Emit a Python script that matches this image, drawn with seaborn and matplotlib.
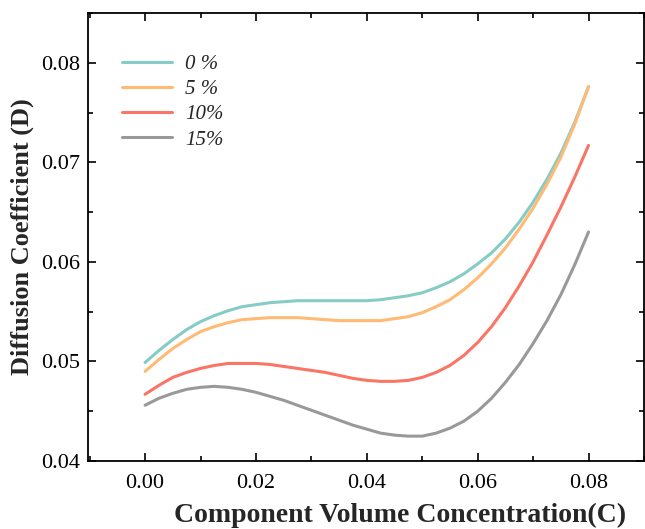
import numpy as np
import pandas as pd
import matplotlib
matplotlib.use("Agg")
import matplotlib.pyplot as plt
import seaborn as sns
from matplotlib.ticker import MultipleLocator

conc = [0.0000, 0.0025, 0.0050, 0.0075, 0.0100, 0.0125, 0.0150, 0.0175, 0.0200,
        0.0225, 0.0250, 0.0275, 0.0300, 0.0325, 0.0350, 0.0375, 0.0400,
        0.0425, 0.0450, 0.0475, 0.0500, 0.0525, 0.0550, 0.0575, 0.0600,
        0.0625, 0.0650, 0.0675, 0.0700, 0.0725, 0.0750, 0.0775, 0.0800]

d_0 = [0.0499, 0.0511, 0.0522, 0.0532, 0.0540, 0.0546, 0.0551, 0.0555, 0.0557,
       0.0559, 0.0560, 0.0561, 0.0561, 0.0561, 0.0561, 0.0561, 0.0561,
       0.0562, 0.0564, 0.0566, 0.0569, 0.0574, 0.0580, 0.0588, 0.0598,
       0.0609, 0.0623, 0.0640, 0.0660, 0.0683, 0.0709, 0.0740, 0.0776]
d_5 = [0.0490, 0.0502, 0.0513, 0.0522, 0.0530, 0.0535, 0.0539, 0.0542, 0.0543,
       0.0544, 0.0544, 0.0544, 0.0543, 0.0542, 0.0541, 0.0541, 0.0541,
       0.0541, 0.0543, 0.0545, 0.0549, 0.0555, 0.0562, 0.0572, 0.0584,
       0.0598, 0.0614, 0.0633, 0.0654, 0.0678, 0.0705, 0.0738, 0.0776]
d_10 = [0.0467, 0.0476, 0.0484, 0.0489, 0.0493, 0.0496, 0.0498, 0.0498, 0.0498,
        0.0497, 0.0495, 0.0493, 0.0491, 0.0489, 0.0486, 0.0483, 0.0481,
        0.0480, 0.0480, 0.0481, 0.0484, 0.0489, 0.0496, 0.0506, 0.0519,
        0.0535, 0.0554, 0.0576, 0.0600, 0.0627, 0.0655, 0.0685, 0.0717]
d_15 = [0.0456, 0.0463, 0.0468, 0.0472, 0.0474, 0.0475, 0.0474, 0.0472, 0.0469,
        0.0465, 0.0461, 0.0456, 0.0451, 0.0446, 0.0441, 0.0436, 0.0432,
        0.0428, 0.0426, 0.0425, 0.0425, 0.0428, 0.0433, 0.0440, 0.0450,
        0.0463, 0.0479, 0.0497, 0.0518, 0.0541, 0.0567, 0.0597, 0.0630]

labels = ['0 %', '5 %', '10%', '15%']
colors = ['#86CCC6', '#FFBA74', '#FA7566', '#999999']

if __name__ == "__main__":
    frames = []
    for lab, vals in zip(labels, [d_0, d_5, d_10, d_15]):
        frames.append(pd.DataFrame({'C': conc, 'D': vals, 'group': lab}))
    df = pd.concat(frames, ignore_index=True)

    sns.set_theme(style='ticks')
    plt.rcParams['font.family'] = ['Liberation Serif', 'DejaVu Serif']

    fig = plt.figure(figsize=(6.45, 5.29), dpi=100)
    ax = fig.add_axes([0.1364, 0.1285, 0.862, 0.847])

    sns.lineplot(data=df, x='C', y='D', hue='group', palette=colors,
                 linewidth=2.2, ax=ax, legend=True)

    ax.set_xlim(-0.0103, 0.09)
    ax.set_ylim(0.04, 0.085)
    ax.xaxis.set_minor_locator(MultipleLocator(0.01))
    ax.yaxis.set_minor_locator(MultipleLocator(0.005))
    ax.set_xticks([0.0, 0.02, 0.04, 0.06, 0.08])
    ax.set_yticks([0.04, 0.05, 0.06, 0.07, 0.08])
    ax.set_xticklabels(['0.00', '0.02', '0.04', '0.06', '0.08'])
    ax.set_yticklabels(['0.04', '0.05', '0.06', '0.07', '0.08'])

    ax.tick_params(which='both', direction='in', top=True, right=True,
                   labelsize=16, colors='black', width=1.2)
    ax.tick_params(which='major', length=6, pad=6)
    ax.tick_params(which='minor', length=3.5)
    ax.tick_params(axis='x', which='major', pad=9)
    for sp in ax.spines.values():
        sp.set_linewidth(1.3)
        sp.set_color('black')

    ax.set_xlabel('Component Volume Concentration(C)', fontsize=20,
                  fontweight='bold')
    ax.set_ylabel('Diffusion Coefficient (D)', fontsize=19,
                  fontweight='bold')
    ax.xaxis.set_label_coords(0.561, -0.093)
    ax.yaxis.set_label_coords(-0.097, 0.5)

    handles, _ = ax.get_legend_handles_labels()
    ax.legend(handles, labels, loc='upper left', bbox_to_anchor=(0.047, 0.926),
              frameon=False, handlelength=2.4, handletextpad=0.6,
              labelspacing=0.27, borderaxespad=0,
              prop={'family': 'Liberation Serif', 'style': 'italic', 'size': 15})

    fig.savefig('out.png', dpi=100)
